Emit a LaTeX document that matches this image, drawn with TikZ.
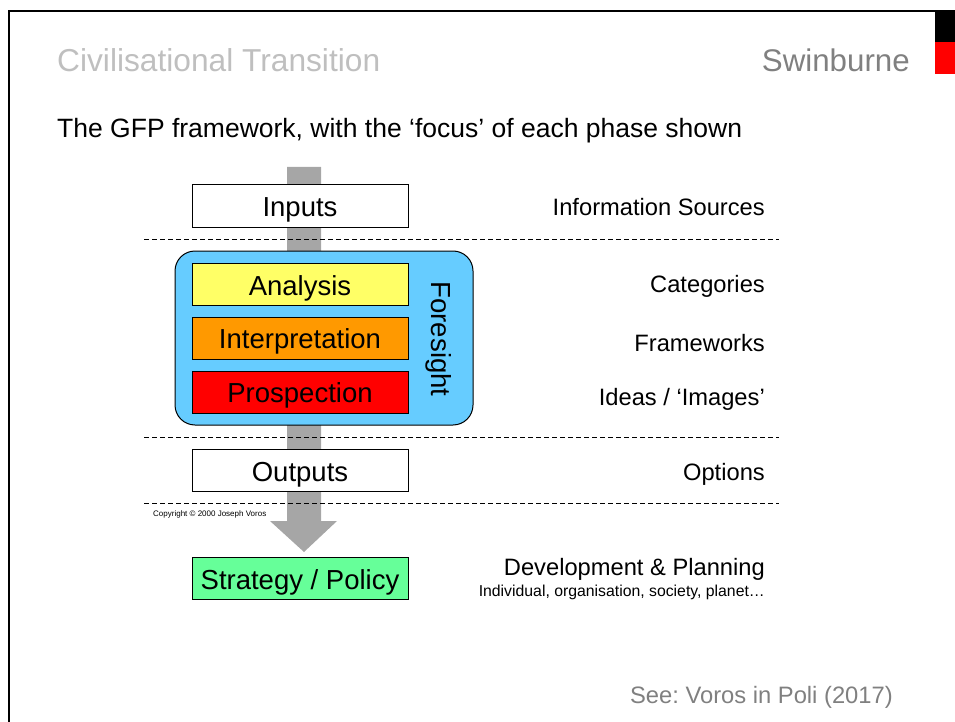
\documentclass[tikz,border=0pt]{standalone}
\usepackage{fontspec}
\setmainfont{Liberation Sans}
\usepackage{tikz}
\usetikzlibrary{positioning}
\definecolor{gray-title}{RGB}{191,191,191}
\definecolor{gray-text}{RGB}{128,128,128}
\definecolor{gray-arrow}{RGB}{166,166,166}
\definecolor{color-foresight}{RGB}{102,204,255}
\definecolor{color-analysis}{RGB}{255,255,102}
\definecolor{color-interpretation}{RGB}{255,153,0}
\definecolor{color-prospection}{RGB}{255,0,0}
\definecolor{color-strategy}{RGB}{102,255,153}
\newcommand{\fsize}[1]{\fontsize{#1}{#1}\selectfont}
\frenchspacing

\begin{document}
\begin{tikzpicture}[x=1pt, y=-1pt, node distance=2pt,
phase/.style={draw, line width=1pt, minimum width=216, minimum height=42, inner sep=0pt, text height=21pt, text depth=0pt, font=\fsize{27.5}, fill=#1},
phase/.default=white,
focus/.style={anchor=base east, inner sep=0pt, font=\fsize{23.7}},
sep/.style={dash pattern=on 5pt off 3pt, line width=1pt}]

\useasboundingbox (0,0) rectangle (955,722);

%% frame and corner marks
\draw[line width=2pt] (9,722) -- (9,11) -- (935,11);
\fill[black] (935,10) rectangle (955,42);
\fill[red] (935,42) rectangle (955,74);

%% headings
\node[anchor=base west, inner sep=0pt, text=gray-title, font=\fsize{31.7}] (title) at (57,72) {Civilisational Transition};
\node[anchor=base east, inner sep=0pt, text=gray-text, font=\fsize{31.3}] (brand) at (910,72) {Swinburne};
\node[anchor=base west, inner sep=0pt, font=\fsize{26.5}] (subtitle) at (57,138) {The GFP framework, with the ‘focus’ of each phase shown};

%% flow arrow
\coordinate (flow-top) at (304,167);
\coordinate (flow-tip) at (304,552);
\fill[gray-arrow] (flow-top) ++(-17,0) -- ++(34,0) -- ++(0,354) -- ++(16,0) -- (flow-tip) -- ++(-34,-31) -- ++(17,0) -- cycle;

%% phases
\node[phase] (inputs) at (300,206) {Inputs};
\node[draw, line width=1pt, rounded corners=20pt, fill=color-foresight, minimum width=298, minimum height=174] (foresight) at (324,338) {};
\node[phase=color-analysis] (analysis) at (300,284.5) {Analysis};
\node[phase=color-interpretation] (interpretation) at (300,338.3) {Interpretation};
\node[phase=color-prospection] (prospection) at (300,392) {Prospection};
\node[rotate=-90, inner sep=0pt, text height=21pt, text depth=0pt, font=\fsize{27.6}] (foresight-label) at (442,339) {Foresight};
\node[phase] (outputs) at (300,470.5) {Outputs};
\node[phase=color-strategy] (strategy) at (300,578.7) {Strategy / Policy};

\foreach \y in {239,437,503}
  \draw[sep] (144,\y) -- (779,\y);

\node[anchor=base west, inner sep=0pt, font=\fsize{8}] (copyright) at (153,516) {Copyright © 2000 Joseph Voros};

%% focus of each phase
\node[focus] (sources) at (765,215) {Information Sources};
\node[focus] (categories) at (765,292) {Categories};
\node[focus] (frameworks) at (765,351.7) {Frameworks};
\node[focus] (images) at (765,405.7) {Ideas / ‘Images’};
\node[focus] (options) at (765,480) {Options};
\node[focus] (planning) at (765,575) {Development \& Planning};
\node[focus, font=\fsize{15.8}] (levels) at (765,596) {Individual, organisation, society, planet…};

\node[anchor=base east, inner sep=0pt, text=gray-text, font=\fsize{23.75}] (source) at (893,703) {See: Voros in Poli (2017)};
\end{tikzpicture}
\end{document}
